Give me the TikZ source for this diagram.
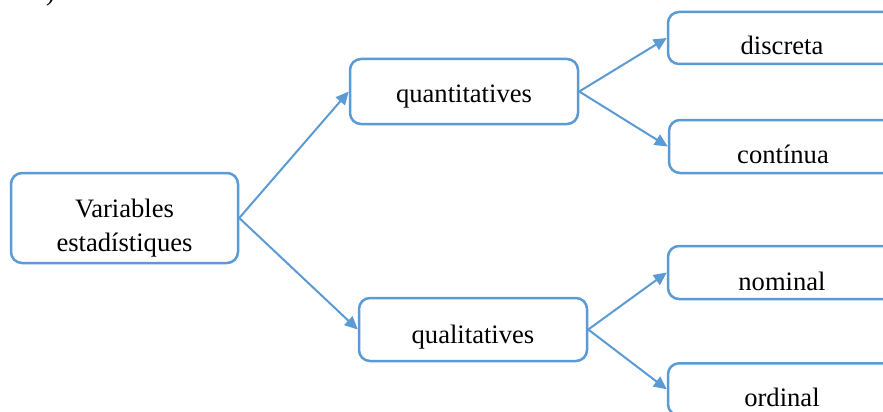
\documentclass[tikz,border=0pt]{standalone}
\usepackage{fontspec}
\setmainfont{Liberation Serif}
\usetikzlibrary{arrows.meta}
\definecolor{bl}{HTML}{5B9BD5}
\begin{document}
\begin{tikzpicture}[x=1pt,y=-1pt,
  box/.style={draw=bl, line width=2.5pt, rounded corners=11pt, fill=white,
    minimum width=228pt, text height=18pt, text depth=6pt, inner sep=0pt,
    font=\fontsize{26.6}{34}\selectfont},
  arr/.style={draw=bl, line width=2pt, -{Triangle[length=13pt,width=12pt]}},
  frag/.style={anchor=base west, inner sep=0pt, font=\fontsize{26.6}{34}\selectfont}]
\useasboundingbox (0,0) rectangle (883,412);
\clip (0,0) rectangle (883,412);
\node[frag] (fr) at (46,1) {)};
\node[box, minimum width=227pt, minimum height=90pt] (var) at (124.5,218)
  {\raisebox{-10pt}{\begin{tabular}{@{}c@{}}Variables\\estadístiques\end{tabular}}};
\node[box, minimum height=65pt] (quant) at (464,91.5) {\raisebox{-5.5pt}{quantitatives}};
\node[box, minimum height=63pt] (qual) at (473,329.5) {\raisebox{-7.5pt}{qualitatives}};
\node[box, minimum height=52pt] (disc) at (782,38) {\raisebox{-11pt}{discreta}};
\node[box, minimum height=53pt] (cont) at (783,146.5) {\raisebox{-10.8pt}{contínua}};
\node[box, minimum height=53pt] (nom) at (782,272.5) {\raisebox{-11.5pt}{nominal}};
\node[box, minimum height=52pt] (ord) at (782,389.3) {\raisebox{-11.4pt}{ordinal}};
\draw[arr] (var.east) -- (quant.west);
\draw[arr] (var.east) -- (qual.west);
\draw[arr] (quant.east) -- (disc.west);
\draw[arr] (quant.east) -- (cont.west);
\draw[arr] (qual.east) -- (nom.west);
\draw[arr] (qual.east) -- (ord.west);
\end{tikzpicture}
\end{document}
